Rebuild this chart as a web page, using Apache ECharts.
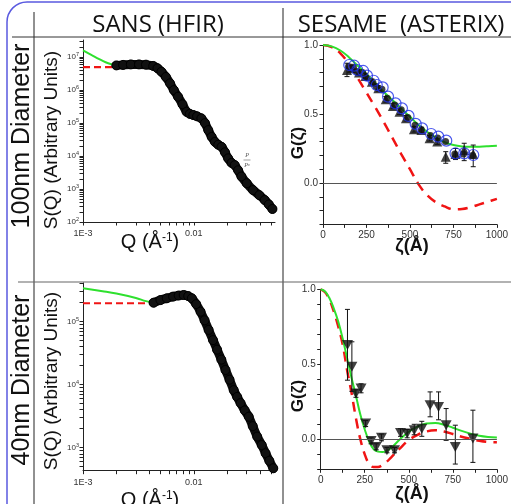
<!DOCTYPE html>
<html>
<head>
<meta charset="utf-8">
<script src="https://cdn.jsdelivr.net/npm/echarts@6/dist/echarts.min.js"></script>
<style>html,body{margin:0;padding:0;background:#fff;}#c{width:511px;height:504px;}</style>
</head>
<body>
<div id="c"></div>
<script>
// ---------- DATA ----------
// SANS 100 nm (Q in 1/Å, S arbitrary)
const sans100Q = [0.0020,0.0023,0.0027,0.0032,0.0037,0.0043,0.0047,0.0051,0.0056,0.0061,0.0066,0.0072,0.0079,0.0086,0.0092,0.0099,0.0107,0.0117,0.0126,0.0135,0.0145,0.0155,0.0166,0.0178,0.0191,0.0204,0.0219,0.0234,0.0251,0.0269,0.0300,0.0342,0.0390,0.0436,0.0475,0.0512];
const sans100S = [5.6e6,5.8e6,6.0e6,6.0e6,5.9e6,5.4e6,4.6e6,3.6e6,2.5e6,1.6e6,1.0e6,6.3e5,3.7e5,2.2e5,1.9e5,1.75e5,1.6e5,1.39e5,1.0e5,6.1e4,3.8e4,2.7e4,2.2e4,1.9e4,1.3e4,8.5e3,6.2e3,5.3e3,3.7e3,2.4e3,1.5e3,930,650,464,340,248];
const fit100Q = [0.0010,0.0012,0.0014,0.0016,0.0018,0.0020,0.0023];
const fit100S = [1.6e7,1.15e7,8.7e6,7.0e6,6.1e6,5.6e6,5.7e6];
const guin100Q = [0.0010,0.0021];
const guin100S = [5.0e6,5.0e6];

// SANS 40 nm
const sans40Q = [0.00433,0.0050,0.0057,0.0065,0.0073,0.0081,0.0089,0.0096,0.0105,0.0115,0.0125,0.0136,0.0149,0.0162,0.0177,0.0193,0.0210,0.0229,0.0246,0.0264,0.0288,0.0313,0.0340,0.0373,0.0410,0.0444,0.0480,0.0521];
const sans40S = [2.0e5,2.2e5,2.35e5,2.5e5,2.6e5,2.65e5,2.55e5,2.35e5,1.9e5,1.44e5,1.05e5,7.4e4,5.1e4,3.6e4,2.5e4,1.71e4,1.2e4,8.2e3,6.4e3,5.1e3,3.9e3,3.1e3,2.2e3,1.5e3,1.1e3,815,620,471];
const fit40Q = [0.0010,0.0015,0.0020,0.0030,0.0037,0.00433];
const fit40S = [3.4e5,3.05e5,2.8e5,2.38e5,2.12e5,2.0e5];
const guin40Q = [0.0010,0.0041];
const guin40S = [1.96e5,1.96e5];

// SESAME 100 nm
const zetaGrid = [0,50,100,150,200,250,300,350,400,450,500,550,600,650,700,750,800,850,900,950,1000];
const fitG100 = [1.0,0.99,0.96,0.91,0.85,0.79,0.725,0.66,0.60,0.54,0.48,0.42,0.37,0.33,0.295,0.275,0.265,0.262,0.263,0.266,0.27];
const sphG100 = [1.0,0.985,0.94,0.86,0.76,0.655,0.55,0.44,0.325,0.21,0.10,-0.01,-0.09,-0.14,-0.17,-0.19,-0.188,-0.175,-0.155,-0.135,-0.115];
const blueZ = [151,179,197,231,253,291,309,343,374,417,454,492,533,570,622,663,709,762,812,864];
const blueG = [0.855,0.850,0.819,0.812,0.778,0.741,0.710,0.693,0.626,0.577,0.541,0.486,0.428,0.396,0.355,0.336,0.307,0.215,0.215,0.203];
const dotZ = [147,175,193,227,249,287,305,339,370,413,450,488,529,566,618,659,705,758,808,860];
const dotG = [0.845,0.838,0.808,0.80,0.765,0.728,0.70,0.68,0.615,0.566,0.53,0.475,0.418,0.386,0.345,0.326,0.30,0.21,0.21,0.20];
const triZ = [138,166,207,244,281,318,361,402,440,477,523,566,613,657,706,762,812,864];
const triG = [0.819,0.831,0.80,0.775,0.734,0.686,0.606,0.558,0.517,0.469,0.389,0.384,0.324,0.30,0.19,0.21,0.239,0.21];
const triLo = [0.771,0.81,0.78,0.755,0.714,0.666,0.586,0.538,0.497,0.449,0.369,0.364,0.304,0.28,0.143,0.17,0.162,0.118];
const triHi = [0.868,0.85,0.82,0.795,0.754,0.706,0.626,0.578,0.537,0.489,0.409,0.404,0.344,0.32,0.227,0.25,0.288,0.275];

// SESAME 40 nm
const zetaGrid40 = [0,25,50,75,100,125,150,175,200,225,250,275,300,325,350,375,400,450,500,550,600,650,700,750,800,850,900,950,1000];
const fitG40 = [1.0,0.985,0.94,0.87,0.784,0.67,0.54,0.41,0.29,0.165,0.065,-0.015,-0.065,-0.082,-0.085,-0.075,-0.058,0.0,0.05,0.085,0.105,0.108,0.097,0.077,0.056,0.038,0.024,0.016,0.012];
const sphG40 = [1.0,0.98,0.93,0.85,0.75,0.63,0.46,0.31,0.14,0.0,-0.10,-0.165,-0.185,-0.185,-0.172,-0.15,-0.12,-0.06,-0.005,0.03,0.052,0.06,0.052,0.035,0.017,0.003,-0.01,-0.018,-0.02];
const dnZ  = [152,177,200,229,255,286,315,345,376,419,453,491,531,574,621,669,712,764,864];
const dnG  = [0.628,0.483,0.305,0.339,0.105,-0.011,-0.051,0.011,-0.073,-0.073,0.042,0.038,0.06,0.071,0.227,0.216,0.094,-0.051,0.005];
const dnLo = [0.394,0.32,0.28,0.31,0.085,-0.03,-0.07,-0.01,-0.09,-0.09,0.02,0.01,0.03,0.02,0.15,0.13,-0.007,-0.165,-0.154];
const dnHi = [0.866,0.65,0.33,0.37,0.125,0.01,-0.03,0.035,-0.055,-0.055,0.07,0.065,0.10,0.12,0.316,0.316,0.205,0.094,0.194];

// ---------- TICKS ----------
const qTickVals = [0.001,0.002,0.003,0.004,0.005,0.006,0.007,0.008,0.009,0.01,0.02,0.03,0.04,0.05];
const qLabelVals = [0.001,0.01];
const qLabelText = ['1E-3','0.01'];
const decades = [1e2,1e3,1e4,1e5,1e6,1e7];
const mults = [1,2,3,4,5,6,7,8,9];
const sTickVals = [];
decades.forEach(d => mults.forEach(m => sTickVals.push(d*m)));
const sLabel100 = [1e2,1e3,1e4,1e5,1e6,1e7];
const sLabel40 = [1e3,1e4,1e5];
const zTickVals = [0,125,250,375,500,625,750,875,1000];
const zLabelVals = [0,250,500,750,1000];
const gTickVals100 = [-0.3,-0.2,-0.1,0,0.1,0.2,0.3,0.4,0.5,0.6,0.7,0.8,0.9,1.0];
const gTickVals40 = [-0.2,-0.1,0,0.1,0.2,0.3,0.4,0.5,0.6,0.7,0.8,0.9,1.0];
const gLabelVals = [0,0.5,1.0];

// ---------- HELPERS ----------
const zip = (a,b) => a.map((v,i)=>[v,b[i]]);
const zip3 = (a,b,c) => a.map((v,i)=>[v,b[i],c[i]]);
const AX = '#222';
const FONT = '"Liberation Sans", Arial, sans-serif';
const lblStyle = {color:'#333', fontSize:9, fontFamily:FONT};
const GREEN = '#2ee02e', RED = '#f01414';

function logX(idx){
  return {type:'log', gridIndex:idx, min:0.001, max:0.054, logBase:10,
    axisLine:{lineStyle:{color:AX,width:1}},
    axisTick:{show:true, length:3.5, customValues:qTickVals, lineStyle:{color:AX}},
    axisLabel:Object.assign({customValues:qLabelVals, margin:7,
      formatter:v=>qLabelText[qLabelVals.findIndex(q=>Math.abs(q-v)<v*1e-3)] || ''}, lblStyle),
    splitLine:{show:false}, minorTick:{show:false}};
}
function logY(idx,min,max,labs){
  return {type:'log', gridIndex:idx, min:min, max:max, logBase:10,
    axisLine:{show:true, lineStyle:{color:AX,width:1}},
    axisTick:{show:true, length:3.5, customValues:sTickVals.filter(v=>v>=min&&v<=max), lineStyle:{color:AX}},
    axisLabel:{customValues:labs, margin:4, color:'#333', fontFamily:FONT, fontSize:8,
      formatter:v=>'10{s|'+Math.round(Math.log10(v))+'}',
      rich:{s:{fontSize:5.5, fontFamily:FONT, color:'#333', verticalAlign:'top', padding:[0,0,5,0]}}},
    splitLine:{show:false}};
}
function zX(idx){
  return {type:'value', gridIndex:idx, min:0, max:1000,
    axisLine:{onZero:false, lineStyle:{color:AX,width:1}},
    axisTick:{show:true, length:3.5, customValues:zTickVals, lineStyle:{color:AX}},
    axisLabel:Object.assign({customValues:zLabelVals, margin:6}, lblStyle, {fontSize:10, formatter:v=>String(v)}),
    splitLine:{show:false}};
}
function gY(idx,min,ticks){
  return {type:'value', gridIndex:idx, min:min, max:1.0,
    axisLine:{show:true, onZero:false, lineStyle:{color:AX,width:1}},
    axisTick:{show:true, length:3.5, customValues:ticks, lineStyle:{color:AX}},
    axisLabel:Object.assign({customValues:gLabelVals, margin:5, formatter:v=>v.toFixed(1)}, lblStyle, {fontSize:10}),
    splitLine:{show:false}};
}
function errRender(params, api){
  const x = api.value(0), lo = api.value(1), hi = api.value(2);
  const p1 = api.coord([x,hi]), p2 = api.coord([x,lo]);
  const w = 2.5, st = {stroke:'#111', lineWidth:1};
  return {type:'group', children:[
    {type:'line', shape:{x1:p1[0],y1:p1[1],x2:p2[0],y2:p2[1]}, style:st},
    {type:'line', shape:{x1:p1[0]-w,y1:p1[1],x2:p1[0]+w,y2:p1[1]}, style:st},
    {type:'line', shape:{x1:p2[0]-w,y1:p2[1],x2:p2[0]+w,y2:p2[1]}, style:st}
  ]};
}
const zeroLine = {silent:true, symbol:'none', label:{show:false}, lineStyle:{color:'#555', width:1, type:'solid'}, data:[{yAxis:0}]};

const chart = echarts.init(document.getElementById('c'), null, {renderer:'canvas'});
const option = {
  animation:false,
  backgroundColor:'#fff',
  grid:[
    {left:83, top:40, width:192, height:182},
    {left:83, top:283, width:192, height:187.7},
    {left:323, top:45, width:179, height:179.4},
    {left:320.7, top:289.3, width:193.3, height:180}
  ],
  xAxis:[logX(0), logX(1), zX(2), zX(3)],
  yAxis:[logY(0,100,3.3e7,sLabel100), logY(1,431,4.11e5,sLabel40), gY(2,-0.3,gTickVals100), gY(3,-0.2,gTickVals40)],
  series:[
    // SANS 100
    {type:'line', xAxisIndex:0, yAxisIndex:0, data:zip(guin100Q,guin100S), symbol:'none', lineStyle:{color:RED,width:2.2,type:[7,4]}, z:2},
    {type:'line', xAxisIndex:0, yAxisIndex:0, data:zip(fit100Q,fit100S), symbol:'none', smooth:0.4, lineStyle:{color:GREEN,width:2}, z:2},
    {type:'line', xAxisIndex:0, yAxisIndex:0, data:zip(sans100Q,sans100S), smooth:0.3, symbol:'circle', symbolSize:9,
      itemStyle:{color:'#111', borderColor:'#000', borderWidth:1}, lineStyle:{color:'#0c0c0c', width:9, cap:'round'}, z:3},
    // SANS 40
    {type:'line', xAxisIndex:1, yAxisIndex:1, data:zip(guin40Q,guin40S), symbol:'none', lineStyle:{color:RED,width:2.2,type:[7,4]}, z:2},
    {type:'line', xAxisIndex:1, yAxisIndex:1, data:zip(fit40Q,fit40S), symbol:'none', smooth:0.4, lineStyle:{color:GREEN,width:2}, z:2},
    {type:'line', xAxisIndex:1, yAxisIndex:1, data:zip(sans40Q,sans40S), smooth:0.3, symbol:'circle', symbolSize:9,
      itemStyle:{color:'#111', borderColor:'#000', borderWidth:1}, lineStyle:{color:'#0c0c0c', width:9, cap:'round'}, z:3},
    // SESAME 100
    {type:'line', xAxisIndex:2, yAxisIndex:2, data:zip(zetaGrid,sphG100), symbol:'none', smooth:0.4, lineStyle:{color:RED,width:2.5,type:[10,7]}, markLine:zeroLine, z:2},
    {type:'line', xAxisIndex:2, yAxisIndex:2, data:zip(zetaGrid,fitG100), symbol:'none', smooth:0.4, lineStyle:{color:GREEN,width:2}, z:2},
    {type:'custom', xAxisIndex:2, yAxisIndex:2, renderItem:errRender, encode:{x:0,y:[1,2]}, data:zip3(triZ,triLo,triHi), z:3},
    {type:'scatter', xAxisIndex:2, yAxisIndex:2, data:zip(triZ,triG), symbol:'triangle', symbolSize:10, itemStyle:{color:'#111'}, z:4},
    {type:'scatter', xAxisIndex:2, yAxisIndex:2, data:zip(dotZ,dotG), symbol:'circle', symbolSize:7, itemStyle:{color:'#111'}, z:5},
    {type:'scatter', xAxisIndex:2, yAxisIndex:2, data:zip(blueZ,blueG), symbol:'circle', symbolSize:11, itemStyle:{color:'rgba(0,0,0,0)', borderColor:'#1f2fe8', borderWidth:1.2}, z:6},
    // SESAME 40
    {type:'line', xAxisIndex:3, yAxisIndex:3, data:zip(zetaGrid40,sphG40), symbol:'none', smooth:0.4, lineStyle:{color:RED,width:2.5,type:[10,7]}, markLine:zeroLine, z:2},
    {type:'line', xAxisIndex:3, yAxisIndex:3, data:zip(zetaGrid40,fitG40), symbol:'none', smooth:0.4, lineStyle:{color:GREEN,width:2}, z:2},
    {type:'custom', xAxisIndex:3, yAxisIndex:3, renderItem:errRender, encode:{x:0,y:[1,2]}, data:zip3(dnZ,dnLo,dnHi), z:3},
    {type:'scatter', xAxisIndex:3, yAxisIndex:3, data:zip(dnZ,dnG), symbol:'triangle', symbolRotate:180, symbolSize:[11,10], itemStyle:{color:'#111'}, z:4}
  ],
  graphic:[
    {type:'rect', shape:{x:7, y:2, width:620, height:620, r:20}, style:{fill:'none', stroke:'#5a5ae0', lineWidth:1.5}, z:-10, silent:true},
    {type:'line', shape:{x1:34,y1:12,x2:34,y2:504}, style:{stroke:'#222',lineWidth:1}, silent:true},
    {type:'line', shape:{x1:12,y1:37,x2:511,y2:37}, style:{stroke:'#333',lineWidth:1}, silent:true},
    {type:'line', shape:{x1:283,y1:8,x2:283,y2:504}, style:{stroke:'#222',lineWidth:1}, silent:true},
    {type:'line', shape:{x1:18,y1:282,x2:511,y2:282}, style:{stroke:'#666',lineWidth:1.2}, silent:true},
    {type:'text', x:158, y:25, style:{text:'SANS (HFIR)', font:'24px "Open Sans", sans-serif', fill:'#111', align:'center', verticalAlign:'middle'}},
    {type:'text', x:401, y:25, style:{text:'SESAME  (ASTERIX)', font:'24px "Open Sans", sans-serif', fill:'#111', align:'center', verticalAlign:'middle'}},
    {type:'text', x:22, y:136, rotation:Math.PI/2, style:{text:'100nm Diameter', font:'25px "Liberation Sans", Arial, sans-serif', fill:'#111', align:'center', verticalAlign:'middle'}},
    {type:'text', x:22, y:380, rotation:Math.PI/2, style:{text:'40nm Diameter', font:'25px "Liberation Sans", Arial, sans-serif', fill:'#111', align:'center', verticalAlign:'middle'}},
    {type:'text', x:52, y:140, rotation:Math.PI/2, style:{text:'S(Q) (Arbitrary Units)', font:'19px "Liberation Sans", Arial, sans-serif', fill:'#111', align:'center', verticalAlign:'middle'}},
    {type:'text', x:52, y:381, rotation:Math.PI/2, style:{text:'S(Q) (Arbitrary Units)', font:'19px "Liberation Sans", Arial, sans-serif', fill:'#111', align:'center', verticalAlign:'middle'}},
    {type:'text', x:150, y:242, style:{text:'Q (Å{s|-1})', font:'20px "Liberation Sans", Arial, sans-serif', fill:'#111', align:'center', verticalAlign:'middle',
      rich:{s:{font:'12px "Liberation Sans", Arial, sans-serif', fill:'#111', verticalAlign:'top', padding:[0,0,8,0]}}}},
    {type:'text', x:150, y:500, style:{text:'Q (Å{s|-1})', font:'20px "Liberation Sans", Arial, sans-serif', fill:'#111', align:'center', verticalAlign:'middle',
      rich:{s:{font:'12px "Liberation Sans", Arial, sans-serif', fill:'#111', verticalAlign:'top', padding:[0,0,8,0]}}}},
    {type:'text', x:298, y:143, rotation:Math.PI/2, style:{text:'G(ζ)', font:'bold 17px "Liberation Sans", Arial, sans-serif', fill:'#111', align:'center', verticalAlign:'middle'}},
    {type:'text', x:298, y:396, rotation:Math.PI/2, style:{text:'G(ζ)', font:'bold 17px "Liberation Sans", Arial, sans-serif', fill:'#111', align:'center', verticalAlign:'middle'}},
    {type:'text', x:412, y:246, style:{text:'ζ(Å)', font:'bold 18px "Liberation Sans", Arial, sans-serif', fill:'#111', align:'center', verticalAlign:'middle'}},
    {type:'text', x:412, y:494, style:{text:'ζ(Å)', font:'bold 18px "Liberation Sans", Arial, sans-serif', fill:'#111', align:'center', verticalAlign:'middle'}},
    {type:'text', x:247, y:155, style:{text:'P', font:'italic 6px "Liberation Serif", serif', fill:'#555', align:'center', verticalAlign:'middle'}},
    {type:'line', shape:{x1:243.5,y1:160,x2:250.5,y2:160}, style:{stroke:'#777',lineWidth:0.7}},
    {type:'text', x:247, y:165, style:{text:'P{s|o}', font:'italic 6px "Liberation Serif", serif', fill:'#555', align:'center', verticalAlign:'middle',
      rich:{s:{font:'4px serif', fill:'#555'}}}}
  ]
};
chart.setOption(option);
</script>
</body>
</html>
